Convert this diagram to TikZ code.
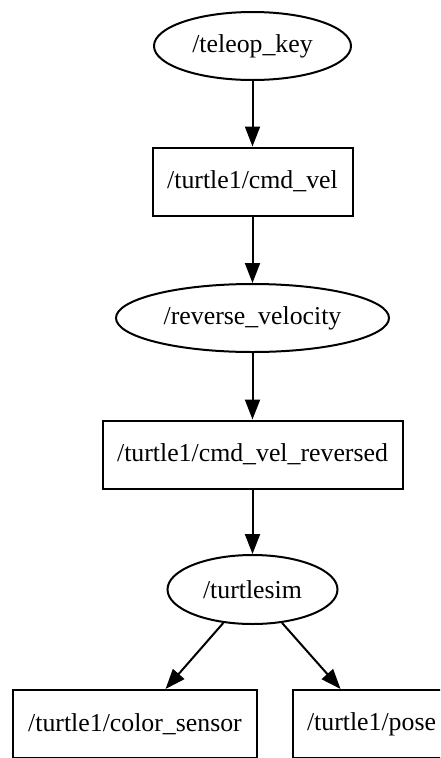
\documentclass[tikz,border=0pt]{standalone}
\usepackage{fontspec}
\setmainfont{Liberation Serif}
\usetikzlibrary{shapes.geometric,arrows.meta}
\tikzset{
  lbl/.style={font=\fontsize{25.8}{31}\selectfont, inner sep=0pt, line width=2pt, draw=black},
  topicnode/.style={lbl, ellipse},
  topicbox/.style={lbl, rectangle},
  flow/.style={line width=2pt, -{Triangle[length=20pt,width=15pt]}}
}
\begin{document}
\begin{tikzpicture}[x=1pt,y=-1pt]
  \useasboundingbox (0,0) rectangle (440,758);
  \clip (0,0) rectangle (440,758);
  \fill[white] (0,0) rectangle (440,758);

  \node[topicnode, minimum width=197pt, minimum height=68pt] (teleop) at (252.5,46) {/teleop\_key};
  \node[topicbox, minimum width=200pt, minimum height=68pt] (cmdvel) at (252.5,181.5) {/turtle1/cmd\_vel};
  \node[topicnode, minimum width=273pt, minimum height=68pt] (reverse) at (252.5,318) {/reverse\_velocity};
  \node[topicbox, minimum width=300pt, minimum height=68pt] (reversed) at (252.5,454.5) {/turtle1/cmd\_vel\_reversed};
  \node[topicnode, minimum width=170pt, minimum height=69pt] (sim) at (252.5,589.5) {/turtlesim};
  \node[topicbox, minimum width=244pt, minimum height=68pt] (color) at (135,724) {/turtle1/color\_sensor};
  \node[topicbox, minimum width=157pt, minimum height=68pt] (pose) at (371.5,724) {/turtle1/pose};

  \draw[flow] (teleop) -- (cmdvel);
  \draw[flow] (cmdvel) -- (reverse);
  \draw[flow] (reverse) -- (reversed);
  \draw[flow] (reversed) -- (sim);
  \draw[flow] (sim) -- (color);
  \draw[flow] (sim) -- (pose);
\end{tikzpicture}
\end{document}
